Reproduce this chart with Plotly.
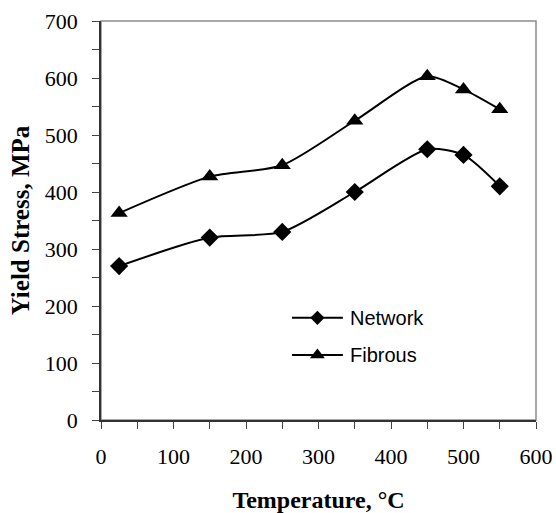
import plotly.graph_objects as go

temperature = [25, 150, 250, 350, 450, 500, 550]
network = [270, 320, 330, 400, 475, 465, 410]
fibrous = [363, 427, 447, 525, 603, 580, 545]
series_names = ["Network", "Fibrous"]
symbols = ["diamond", "triangle-up"]

serif = "Liberation Serif"
fig = go.Figure()
for name, vals, sym, msize in [(series_names[0], network, symbols[0], 14), (series_names[1], fibrous, symbols[1], 15)]:
    fig.add_trace(go.Scatter(x=temperature, y=vals, name=name, mode="lines+markers",
                             line=dict(color="black", width=2, shape="spline", smoothing=0.7),
                             marker=dict(symbol=sym, size=msize, color="black"),
                             showlegend=False))

# manual legend (longer sample lines like the reference)
leg_y = [0.256, 0.163]
lx0, lx1, tx = 0.439, 0.556, 0.568
for name, sym, ly, msize in zip(series_names, symbols, leg_y, [11, 13]):
    fig.add_shape(type="line", xref="paper", yref="paper", x0=lx0, x1=lx1, y0=ly, y1=ly,
                  line=dict(color="black", width=2))
    fig.add_trace(go.Scatter(x=[(lx0 + lx1) / 2], y=[ly], xaxis="x2", yaxis="y2", mode="markers",
                             marker=dict(symbol=sym, size=msize, color="black"),
                             showlegend=False, hoverinfo="skip"))
    fig.add_annotation(x=tx, y=ly, xref="paper", yref="paper", text=name, showarrow=False,
                       xanchor="left", yanchor="middle",
                       font=dict(family="Liberation Sans", size=20, color="black"))

fig.add_shape(type="rect", xref="paper", yref="paper", x0=0, y0=0, x1=1, y1=1,
              line=dict(color="#8c8c8c", width=1.5), layer="below")

fig.update_layout(
    width=556, height=513, paper_bgcolor="white", plot_bgcolor="white",
    margin=dict(l=101, r=20, t=21, b=93, autoexpand=False),
    showlegend=False,
    font=dict(family=serif, color="black"),
    xaxis2=dict(overlaying="x", range=[0, 1], visible=False),
    yaxis2=dict(overlaying="y", range=[0, 1], visible=False),
    xaxis=dict(range=[0, 600], tickvals=[0, 100, 200, 300, 400, 500, 600], automargin=False,
               ticks="outside", ticklen=7, tickcolor="#444", tickwidth=1.2,
               minor=dict(tickvals=[50, 150, 250, 350, 450, 550], ticks="outside", ticklen=7, tickcolor="#444"),
               showline=True, linecolor="#333", linewidth=1.5, showgrid=False, zeroline=False,
               tickfont=dict(family=serif, size=22, color="black"), ticklabelstandoff=9,
               title=dict(text="<b>Temperature, °C</b>", font=dict(family=serif, size=24), standoff=24)),
    yaxis=dict(range=[0, 700], tickvals=[0, 100, 200, 300, 400, 500, 600, 700], automargin=False,
               ticks="outside", ticklen=7, tickcolor="#444", tickwidth=1.2,
               minor=dict(tickvals=[50, 150, 250, 350, 450, 550, 650], ticks="outside", ticklen=7, tickcolor="#444"),
               showline=True, linecolor="#333", linewidth=1.5, showgrid=False, zeroline=False,
               tickfont=dict(family=serif, size=22, color="black"), ticklabelstandoff=10,
               title=dict(text="<b>Yield Stress, MPa</b>", font=dict(family=serif, size=25), standoff=8)),
)

fig.write_html("out.html")
